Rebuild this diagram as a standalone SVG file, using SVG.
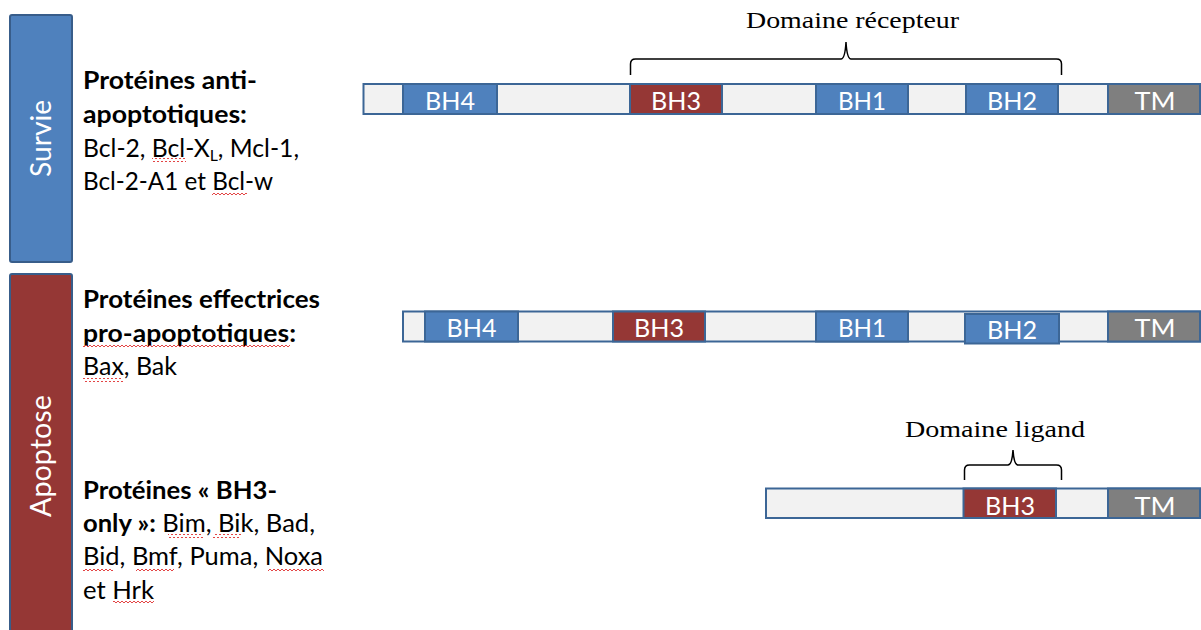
<svg xmlns="http://www.w3.org/2000/svg" width="1201" height="630" viewBox="0 0 1201 630">
<style>
.bar{fill:#F2F2F2;stroke:#3C6696;stroke-width:2}
.blue{fill:#4F81BD;stroke:#3C6696;stroke-width:2}
.red{fill:#953735;stroke:#3C6696;stroke-width:2}
.gray{fill:#7F7F7F;stroke:#3C6696;stroke-width:2}
.lbl{font-family:Lato,"Liberation Sans",sans-serif;font-size:25px;fill:#FFFFFF;text-anchor:middle}
.side{font-family:Lato,"Liberation Sans",sans-serif;font-size:28px;fill:#FFFFFF;text-anchor:middle}
.body{font-family:Lato,"Liberation Sans",sans-serif;font-size:25px;fill:#000000}
.b{font-weight:bold}
.dom{font-family:"Liberation Serif","Times New Roman",serif;font-size:24px;fill:#000000}
.brace{fill:none;stroke:#000000;stroke-width:1.5}
.sq{fill:url(#wave)}
</style>
<defs>
<pattern id="wave" patternUnits="userSpaceOnUse" width="4" height="4">
<path d="M0,3 L2,1 L4,3" fill="none" stroke="#E03030" stroke-width="0.9"/>
</pattern>
</defs>

<g id="sidebar-survie">
<rect x="10" y="15" width="62" height="247" rx="2" fill="#4F81BD" stroke="#385D8A" stroke-width="2"/>
<text class="side" transform="translate(51,138.5) rotate(-90)" x="0" y="0" textLength="77" lengthAdjust="spacingAndGlyphs">Survie</text>
</g>
<g id="sidebar-apoptose">
<rect x="10" y="274" width="62" height="362" rx="2" fill="#953735" stroke="#385D8A" stroke-width="2"/>
<text class="side" transform="translate(51,456) rotate(-90)" x="0" y="0" textLength="122" lengthAdjust="spacingAndGlyphs">Apoptose</text>
</g>

<g id="text-anti">
<text class="body b" x="83" y="89" textLength="174" lengthAdjust="spacingAndGlyphs">Protéines anti-</text>
<text class="body b" x="83" y="122.5" textLength="164" lengthAdjust="spacingAndGlyphs">apoptotiques:</text>
<text class="body" x="83" y="156.5" textLength="216" lengthAdjust="spacingAndGlyphs">Bcl-2, Bcl-X<tspan font-size="16" dy="4">L</tspan><tspan dy="-4">, Mcl-1,</tspan></text>
<text class="body" x="83" y="190" textLength="190" lengthAdjust="spacingAndGlyphs">Bcl-2-A1 et Bcl-w</text>
<rect class="sq" x="152" y="158" width="34" height="4"/>
<rect class="sq" x="212" y="191" width="35" height="4"/>
</g>

<g id="text-effectrices">
<text class="body b" x="83" y="307.5" textLength="237" lengthAdjust="spacingAndGlyphs">Protéines effectrices</text>
<text class="body b" x="83" y="341.5" textLength="213" lengthAdjust="spacingAndGlyphs">pro-apoptotiques:</text>
<text class="body" x="83" y="375" textLength="94" lengthAdjust="spacingAndGlyphs">Bax, Bak</text>
<rect class="sq" x="83" y="345" width="207" height="4"/>
<rect class="sq" x="83" y="378" width="40" height="4"/>
</g>

<g id="text-bh3only">
<text class="body b" x="83" y="498.5" textLength="194" lengthAdjust="spacingAndGlyphs">Protéines « BH3-</text>
<text class="body" x="83" y="532" textLength="232" lengthAdjust="spacingAndGlyphs"><tspan font-weight="bold">only »:</tspan> Bim, Bik, Bad,</text>
<text class="body" x="83" y="565" textLength="240" lengthAdjust="spacingAndGlyphs">Bid, Bmf, Puma, Noxa</text>
<text class="body" x="83" y="598.5" textLength="71" lengthAdjust="spacingAndGlyphs">et Hrk</text>
<rect class="sq" x="168" y="534" width="35" height="4"/>
<rect class="sq" x="213" y="534" width="28" height="4"/>
<rect class="sq" x="83" y="568" width="30" height="4"/>
<rect class="sq" x="136" y="568" width="38" height="4"/>
<rect class="sq" x="268" y="568" width="56" height="4"/>
<rect class="sq" x="113" y="601" width="41" height="4"/>
</g>

<g id="protein-anti">
<rect class="bar" x="363.5" y="84" width="837" height="30"/>
<rect class="blue" x="403" y="84" width="94" height="30"/>
<rect class="red" x="630" y="84" width="92" height="30"/>
<rect class="blue" x="816" y="84" width="92" height="30"/>
<rect class="blue" x="966" y="84" width="92" height="30"/>
<rect class="gray" x="1108" y="84" width="92" height="30"/>
<text class="lbl" x="450" y="110" textLength="50" lengthAdjust="spacingAndGlyphs">BH4</text>
<text class="lbl" x="676" y="110" textLength="50" lengthAdjust="spacingAndGlyphs">BH3</text>
<text class="lbl" x="862" y="110" textLength="48" lengthAdjust="spacingAndGlyphs">BH1</text>
<text class="lbl" x="1012" y="110" textLength="50" lengthAdjust="spacingAndGlyphs">BH2</text>
<text class="lbl" x="1155" y="110" textLength="41" lengthAdjust="spacingAndGlyphs">TM</text>
</g>

<g id="protein-effectrices">
<rect class="bar" x="403" y="311.5" width="797" height="30"/>
<rect class="blue" x="425" y="311.5" width="93" height="30"/>
<rect class="red" x="613" y="311.5" width="92" height="30"/>
<rect class="blue" x="816" y="311.5" width="92" height="30"/>
<rect class="blue" x="965" y="314" width="94" height="29.5"/>
<rect class="gray" x="1108" y="311.5" width="92" height="30"/>
<text class="lbl" x="471.5" y="337" textLength="50" lengthAdjust="spacingAndGlyphs">BH4</text>
<text class="lbl" x="659" y="337" textLength="50" lengthAdjust="spacingAndGlyphs">BH3</text>
<text class="lbl" x="862" y="337" textLength="48" lengthAdjust="spacingAndGlyphs">BH1</text>
<text class="lbl" x="1012" y="339" textLength="50" lengthAdjust="spacingAndGlyphs">BH2</text>
<text class="lbl" x="1155" y="337" textLength="41" lengthAdjust="spacingAndGlyphs">TM</text>
</g>

<g id="protein-bh3only">
<rect class="bar" x="766" y="488.5" width="434" height="29.5"/>
<rect class="red" x="963.5" y="488.5" width="92.5" height="29.5"/>
<rect class="gray" x="1108" y="488.5" width="92" height="29.5"/>
<text class="lbl" x="1010" y="515" textLength="50" lengthAdjust="spacingAndGlyphs">BH3</text>
<text class="lbl" x="1155" y="515" textLength="41" lengthAdjust="spacingAndGlyphs">TM</text>
</g>

<g id="connectors">
<path class="brace" d="M630.5,75 L630.5,64 Q630.5,59 635.5,59 L841,59 Q845,59 846,42 Q847,59 851,59 L1056.5,59 Q1061.5,59 1061.5,64 L1061.5,75"/>
<path class="brace" d="M964.5,480 L964.5,470 Q964.5,465 969.5,465 L1008,465 Q1012,465 1013,450 Q1014,465 1018,465 L1056.5,465 Q1061.5,465 1061.5,470 L1061.5,480"/>
</g>

<g id="label-recepteur">
<text class="dom" x="746" y="27.5" textLength="213" lengthAdjust="spacingAndGlyphs">Domaine récepteur</text>
</g>
<g id="label-ligand">
<text class="dom" x="905" y="436.5" textLength="180" lengthAdjust="spacingAndGlyphs">Domaine ligand</text>
</g>
</svg>
